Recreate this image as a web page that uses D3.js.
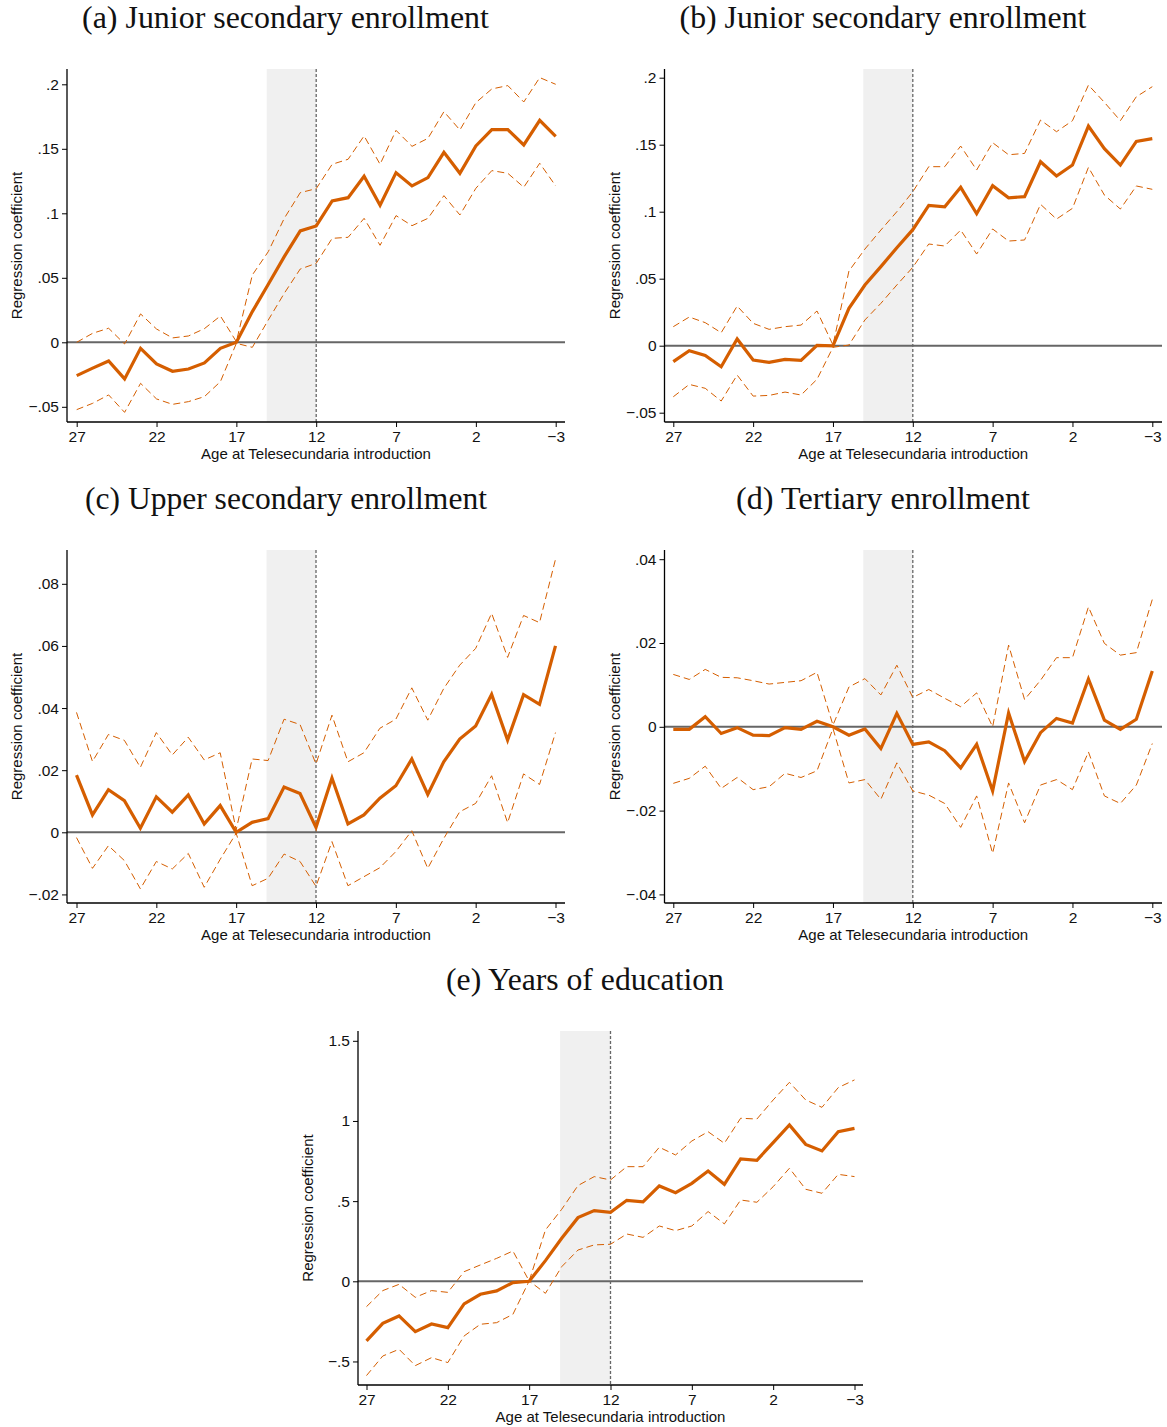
<!DOCTYPE html>
<html>
<head>
<meta charset="utf-8">
<script src="https://cdn.jsdelivr.net/npm/d3@7"></script>
<style>
  html, body { margin: 0; padding: 0; background: #fff; }
  svg { display: block; }
</style>
</head>
<body>
<svg id="chart" width="1167" height="1427"></svg>
<script>
// ---------------- DATA ----------------
const ages = [27,26,25,24,23,22,21,20,19,18,17,16,15,14,13,12,11,10,9,8,7,6,5,4,3,2,1,0,-1,-2,-3];
const xTickValues = [27,22,17,12,7,2,-3];
const xTickLabels = ["27","22","17","12","7","2","\u22123"];
const shadeFrom = 15.1, shadeTo = 12, cutoffAge = 12;

const titles = ["(a) Junior secondary enrollment","(b) Junior secondary enrollment","(c) Upper secondary enrollment","(d) Tertiary enrollment","(e) Years of education"];
const yAxisTitle = "Regression coefficient";
const xAxisTitle = "Age at Telesecundaria introduction";

// (a)
const coefA = [-0.0258,-0.020,-0.0145,-0.0284,-0.0047,-0.0168,-0.0225,-0.0207,-0.016,-0.0047,0,0.0238,0.045,0.0664,0.0863,0.0902,0.1096,0.1121,0.1287,0.1062,0.1315,0.1212,0.1277,0.1473,0.131,0.1522,0.1649,0.1649,0.153,0.1721,0.1597];
const upperA = [0.0,0.007,0.0109,-0.0013,0.022,0.0103,0.0034,0.0049,0.0106,0.0204,0.0005,0.0522,0.0703,0.0961,0.116,0.1191,0.138,0.1419,0.16,0.138,0.1643,0.1519,0.1581,0.1788,0.1646,0.1858,0.1964,0.199,0.1863,0.2052,0.2];
const lowerA = [-0.0522,-0.0473,-0.0408,-0.0543,-0.0318,-0.0439,-0.0481,-0.046,-0.0421,-0.0305,-0.0008,-0.0039,0.0173,0.038,0.0568,0.0612,0.0806,0.0814,0.0961,0.0752,0.0982,0.0904,0.0961,0.1137,0.0987,0.1194,0.1331,0.131,0.1202,0.1388,0.1212];
const yTicksA = [-0.05,0,0.05,0.1,0.15,0.2];
const yLabelsA = ["\u2212.05","0",".05",".1",".15",".2"];

// (b)
const coefB = [-0.0119,-0.0037,-0.0072,-0.0157,0.005,-0.0107,-0.0124,-0.0102,-0.0109,0.0002,-0.0002,0.0279,0.0453,0.059,0.0731,0.0866,0.1047,0.1037,0.1182,0.0985,0.1194,0.1104,0.1112,0.1373,0.1266,0.1348,0.1639,0.147,0.1348,0.1525,0.1545];
const upperB = [0.0142,0.0214,0.0172,0.0097,0.0296,0.0167,0.0122,0.0142,0.0154,0.0259,0.0005,0.0557,0.0721,0.0863,0.1,0.1149,0.1336,0.1336,0.149,0.1311,0.1515,0.1425,0.1435,0.1684,0.1597,0.1679,0.1945,0.1816,0.1679,0.1858,0.1933];
const lowerB = [-0.0381,-0.0289,-0.0318,-0.0413,-0.0219,-0.0376,-0.0371,-0.0346,-0.0368,-0.0251,-0.0012,0.0005,0.0192,0.0316,0.0453,0.0585,0.0759,0.0744,0.0863,0.0684,0.0871,0.0781,0.0789,0.1055,0.0945,0.1025,0.1331,0.1124,0.102,0.1192,0.1167];
const yTicksB = [-0.05,0,0.05,0.1,0.15,0.2];
const yLabelsB = ["\u2212.05","0",".05",".1",".15",".2"];

// (c)
const coefC = [0.0184,0.0056,0.0137,0.0102,0.0013,0.0114,0.0065,0.012,0.0027,0.0086,0,0.0032,0.0044,0.0146,0.0125,0.0016,0.0175,0.0027,0.0056,0.011,0.015,0.0236,0.0122,0.0227,0.030,0.0342,0.0444,0.0297,0.0443,0.0412,0.060];
const upperC = [0.0386,0.0228,0.0315,0.0296,0.0209,0.0321,0.0249,0.0306,0.0233,0.0256,0.0008,0.0236,0.0231,0.0364,0.0347,0.022,0.0377,0.0227,0.0256,0.0335,0.0364,0.0465,0.0361,0.0463,0.0538,0.0592,0.0705,0.0563,0.0698,0.0675,0.0879];
const lowerC = [-0.0017,-0.0116,-0.0043,-0.0091,-0.0182,-0.0094,-0.0118,-0.0068,-0.0177,-0.0087,-0.0003,-0.0172,-0.0148,-0.007,-0.0094,-0.0174,-0.003,-0.0172,-0.0143,-0.0114,-0.0062,0.0005,-0.0116,-0.002,0.0066,0.0093,0.0182,0.0031,0.0188,0.0154,0.0321];
const yTicksC = [-0.02,0,0.02,0.04,0.06,0.08];
const yLabelsC = ["\u2212.02","0",".02",".04",".06",".08"];

// (d)
const coefD = [-0.0006,-0.0006,0.0024,-0.0016,-0.0002,-0.002,-0.0021,-0.0002,-0.0006,0.0013,0,-0.002,-0.0005,-0.0052,0.0032,-0.0042,-0.0036,-0.0057,-0.0098,-0.0042,-0.0153,0.0033,-0.0083,-0.0014,0.002,0.0009,0.0114,0.0016,-0.0006,0.0018,0.0133];
const upperD = [0.0125,0.0113,0.0137,0.0118,0.0117,0.011,0.0102,0.0106,0.011,0.013,0.0004,0.0095,0.0115,0.0076,0.0147,0.007,0.0089,0.0068,0.0048,0.0081,0.0,0.0195,0.0065,0.0111,0.0165,0.0165,0.0286,0.0199,0.0171,0.0177,0.0304];
const lowerD = [-0.0135,-0.0123,-0.0094,-0.0147,-0.0121,-0.015,-0.0143,-0.0111,-0.0121,-0.0105,-0.0004,-0.0134,-0.0126,-0.0173,-0.0086,-0.0153,-0.0163,-0.0183,-0.024,-0.0165,-0.0302,-0.0134,-0.0229,-0.0139,-0.0126,-0.015,-0.006,-0.0165,-0.0183,-0.0139,-0.004];
const yTicksD = [-0.04,-0.02,0,0.02,0.04];
const yLabelsD = ["\u2212.04","\u2212.02","0",".02",".04"];

// (e)
const coefE = [-0.372,-0.262,-0.216,-0.314,-0.266,-0.289,-0.141,-0.081,-0.06,-0.008,0,0.129,0.268,0.397,0.441,0.43,0.505,0.495,0.595,0.553,0.611,0.688,0.605,0.763,0.755,0.865,0.975,0.854,0.813,0.933,0.954];
const upperE = [-0.158,-0.058,-0.019,-0.1,-0.058,-0.069,0.06,0.102,0.143,0.189,0.002,0.32,0.449,0.597,0.653,0.632,0.715,0.715,0.836,0.788,0.875,0.933,0.861,1.017,1.012,1.131,1.241,1.131,1.085,1.208,1.256];
const lowerE = [-0.588,-0.466,-0.424,-0.526,-0.476,-0.507,-0.341,-0.268,-0.258,-0.206,0.002,-0.075,0.091,0.195,0.227,0.231,0.295,0.274,0.345,0.316,0.345,0.435,0.358,0.507,0.493,0.59,0.705,0.574,0.549,0.667,0.653];
const yTicksE = [-0.5,0,0.5,1,1.5];
const yLabelsE = ["\u2212.5","0",".5","1","1.5"];

// ---------------- LAYOUT ----------------
const panels = [
  {title: titles[0], coef: coefA, upper: upperA, lower: lowerA, yt: yTicksA, yl: yLabelsA,
   left: 67, right: 565, top: 69, bottom: 422, x0: 76.7, x1: 555.7, ya: [0, 342.3], yb: [0.2, 84.3], titleX: 285.5, titleY: 28, titleW: 407},
  {title: titles[1], coef: coefB, upper: upperB, lower: lowerB, yt: yTicksB, yl: yLabelsB,
   left: 664.5, right: 1162, top: 69, bottom: 422, x0: 673.3, x1: 1152.3, ya: [0, 345.7], yb: [0.2, 77.7], titleX: 883, titleY: 28, titleW: 407},
  {title: titles[2], coef: coefC, upper: upperC, lower: lowerC, yt: yTicksC, yl: yLabelsC,
   left: 67, right: 565, top: 550, bottom: 903, x0: 76.5, x1: 555.5, ya: [0, 832.3], yb: [0.08, 583.8], titleX: 286, titleY: 509, titleW: 402},
  {title: titles[3], coef: coefD, upper: upperD, lower: lowerD, yt: yTicksD, yl: yLabelsD,
   left: 664.5, right: 1162, top: 550, bottom: 903, x0: 673.3, x1: 1152.3, ya: [0, 726.8], yb: [0.04, 559.2], titleX: 883, titleY: 509, titleW: 294},
  {title: titles[4], coef: coefE, upper: upperE, lower: lowerE, yt: yTicksE, yl: yLabelsE,
   left: 358, right: 863, top: 1031, bottom: 1385, x0: 366.5, x1: 854.5, ya: [0, 1281.3], yb: [1.5, 1040.8], titleX: 585, titleY: 990, titleW: 278}
];

const ORANGE = "#d55e00";
const SANS = "'Liberation Sans', Arial, sans-serif";
const svg = d3.select("#chart");

panels.forEach(p => {
  const g = svg.append("g");
  const x = d3.scaleLinear().domain([ages[0], ages[ages.length - 1]]).range([p.x0, p.x1]);
  const y = d3.scaleLinear().domain([p.ya[0], p.yb[0]]).range([p.ya[1], p.yb[1]]);

  g.append("rect")
    .attr("x", x(shadeFrom)).attr("y", p.top)
    .attr("width", x(shadeTo) - x(shadeFrom)).attr("height", p.bottom - p.top)
    .attr("fill", "#f0f0f0");

  g.append("line")
    .attr("x1", p.left).attr("x2", p.right)
    .attr("y1", y(0)).attr("y2", y(0))
    .attr("stroke", "#666").attr("stroke-width", 2);

  g.append("line")
    .attr("x1", x(cutoffAge)).attr("x2", x(cutoffAge))
    .attr("y1", p.top).attr("y2", p.bottom)
    .attr("stroke", "#666").attr("stroke-width", 1.3)
    .attr("stroke-dasharray", "3,2");

  const line = d3.line().x((d, i) => x(ages[i])).y(d => y(d));

  [p.upper, p.lower].forEach(arr => {
    g.append("path").datum(arr)
      .attr("d", line).attr("fill", "none")
      .attr("stroke", ORANGE).attr("stroke-width", 1)
      .attr("stroke-dasharray", "7,4");
  });

  g.append("path").datum(p.coef)
    .attr("d", line).attr("fill", "none")
    .attr("stroke", ORANGE).attr("stroke-width", 3.2);

  const yAxis = d3.axisLeft(y).tickValues(p.yt)
    .tickFormat((d, i) => p.yl[i]).tickSize(5).tickPadding(3);
  const ya = g.append("g").attr("transform", `translate(${p.left},0)`).call(yAxis);
  ya.select(".domain").remove();
  ya.append("line").attr("x1", 0).attr("x2", 0).attr("y1", p.top).attr("y2", p.bottom)
    .attr("stroke", "#000").attr("stroke-width", 1.3);

  const xAxis = d3.axisBottom(x).tickValues(xTickValues)
    .tickFormat((d, i) => xTickLabels[i]).tickSize(5).tickPadding(4);
  const xa = g.append("g").attr("transform", `translate(0,${p.bottom})`).call(xAxis);
  xa.select(".domain").remove();
  xa.append("line").attr("x1", p.left).attr("x2", p.right).attr("y1", 0).attr("y2", 0)
    .attr("stroke", "#000").attr("stroke-width", 1.3);

  [ya, xa].forEach(a => {
    a.attr("font-size", null).attr("font-family", null);
    a.selectAll(".tick text")
      .style("font-size", "15.5px").style("font-family", SANS).attr("fill", "#111");
    a.selectAll(".tick line").attr("stroke", "#000");
  });

  g.append("text")
    .attr("x", (p.left + p.right) / 2).attr("y", p.bottom + 37)
    .attr("text-anchor", "middle")
    .style("font-size", "15px").style("font-family", SANS).attr("fill", "#111")
    .text(xAxisTitle);
  g.append("text")
    .attr("transform", `translate(${p.left - 45},${(p.top + p.bottom) / 2}) rotate(-90)`)
    .attr("text-anchor", "middle")
    .style("font-size", "15px").style("font-family", SANS).attr("fill", "#111")
    .text(yAxisTitle);

  const t = g.append("text")
    .attr("x", p.titleX).attr("y", p.titleY)
    .attr("text-anchor", "middle")
    .style("font-size", "27px").style("font-family", "'Liberation Serif', 'DejaVu Serif', serif")
    .attr("fill", "#111")
    .text(p.title);
  const w = t.node().getComputedTextLength();
  if (w > 0) t.style("font-size", (27 * p.titleW / w).toFixed(2) + "px");
});
</script>
</body>
</html>
